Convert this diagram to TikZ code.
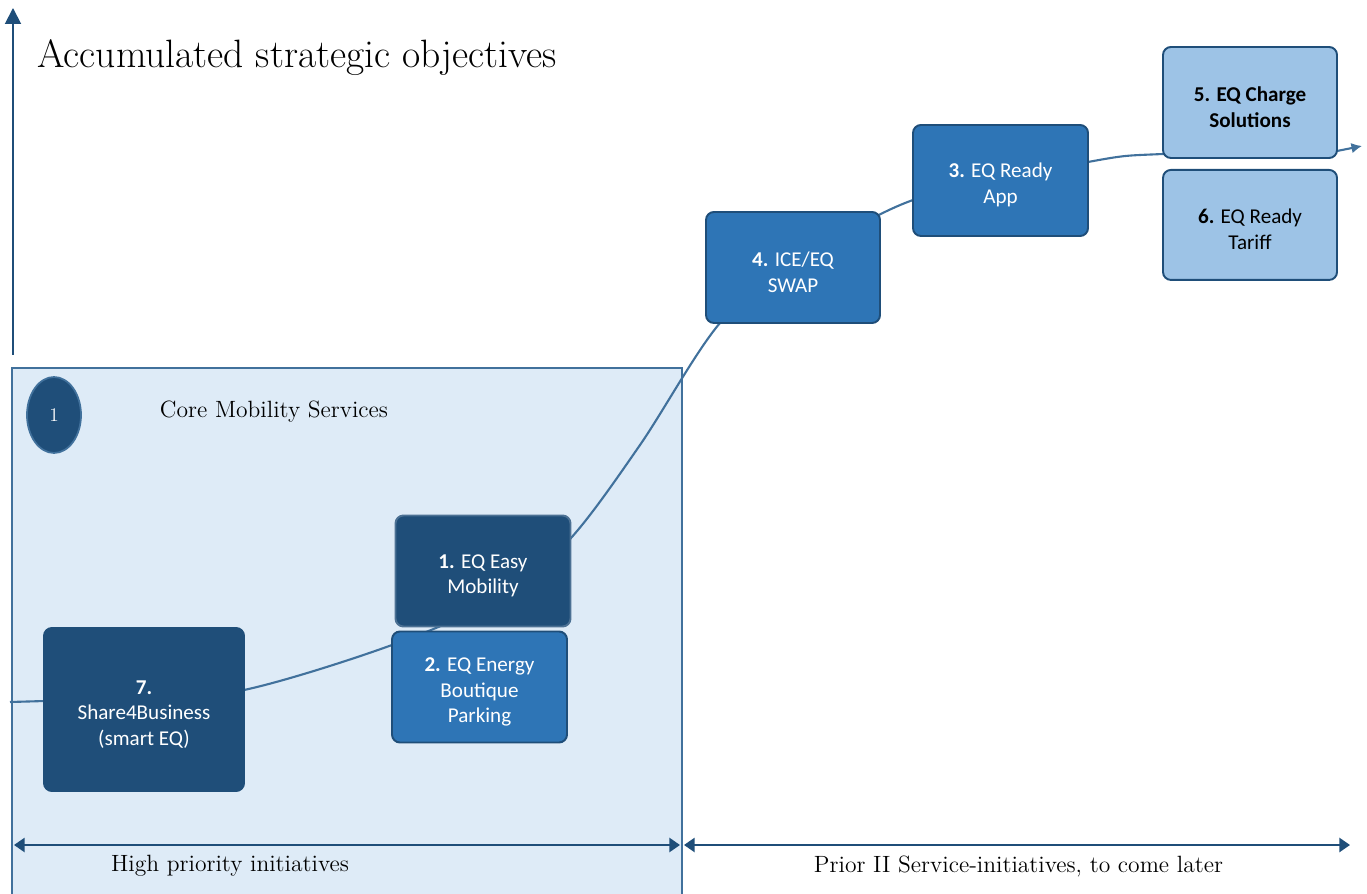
\documentclass[tikz,border=0pt]{standalone}
\usepackage{fontspec}
\newfontfamily\boxfont{Carlito}
\usepackage{tikz}
\usetikzlibrary{positioning,shapes.geometric,arrows.meta}
\definecolor{navy}{RGB}{31,78,121}
\definecolor{midblue}{RGB}{46,117,182}
\definecolor{paleblue}{RGB}{157,195,230}
\definecolor{panelfill}{RGB}{222,235,247}
\definecolor{panelline}{RGB}{65,113,156}
\tikzset{
    initiative/.style={rectangle, rounded corners=4.5pt, draw=navy, line width=1.1pt, minimum width=3.5cm, minimum height=2.22cm, align=center, inner sep=2pt, font=\boxfont\fontsize{12}{14.6}\selectfont},
    corebox/.style={initiative, fill=navy, text=white},
    midbox/.style={initiative, fill=midblue, text=white},
    laterbox/.style={initiative, fill=paleblue, text=black},
    axisline/.style={draw=navy, line width=1.1pt},
    trend/.style={draw=panelline, line width=1.2pt},
    caption/.style={font=\fontsize{13.4}{16}\selectfont}
}
% lowers the first line of a box a little
\newcommand{\lift}{\rule{0pt}{13.5pt}}

\begin{document}
\begin{tikzpicture}
    \useasboundingbox (0,0) rectangle (27.34,-17.88);

    % panel of the first group
    \draw[fill=panelfill, draw=panelline, line width=0.8pt] (0.24,-18.2) rectangle (13.64,-7.36);
    \node[ellipse, fill=navy, draw=panelline, line width=1pt, minimum width=1.08cm, minimum height=1.52cm, text=white, font=\fontsize{11}{12}\selectfont] (badge) at (1.08,-8.3) {1};
    \node[caption] (coretitle) at (5.48,-8.24) {Core Mobility Services};

    % vertical axis and title
    \coordinate (ybottom) at (0.26,-7.1);
    \coordinate (ytop) at (0.26,-0.16);
    \draw[axisline, -{Triangle[length=9pt,width=9pt]}] (ybottom) -- (ytop);
    \node[anchor=base west, inner sep=0pt, font=\fontsize{22.5}{27}\selectfont] (title) at (0.74,-1.36) {Accumulated strategic objectives};

    % trend line
    \coordinate (t0) at (0.2,-14.04);
    \coordinate (t1) at (2.88,-13.95);
    \coordinate (t2) at (4.88,-13.8);
    \coordinate (t3) at (7.84,-12.9);
    \coordinate (t4) at (10.1,-11.9);
    \coordinate (t5) at (11.42,-10.76);
    \coordinate (t6) at (12.8,-8.9);
    \coordinate (t7) at (14.4,-6.46);
    \coordinate (t8) at (15.86,-5.35);
    \coordinate (t9) at (18.26,-4.0);
    \coordinate (t10) at (21.76,-3.24);
    \coordinate (t11) at (23.26,-3.08);
    \coordinate (t12) at (26.74,-3.02);
    \coordinate (t13) at (27.24,-2.92);
    \draw[trend] plot[smooth, tension=0.55] coordinates {(t0) (t1) (t2) (t3) (t4) (t5) (t6) (t7) (t8) (t9) (t10) (t11) (t12)};
    \draw[trend, -{Latex[length=6pt,width=6pt]}] (t12) -- (t13);

    % initiatives
    \node[corebox, draw=navy!80!white] (easy) at (9.66,-11.42) {\lift\textbf{1.} EQ Easy\\Mobility};
    \node[midbox] (boutique) at (9.59,-13.74) {\lift\textbf{2.} EQ Energy\\Boutique\\Parking};
    \node[corebox, minimum width=4cm, minimum height=3.26cm] (share) at (2.88,-14.19) {\lift\textbf{7.}\\Share4Business\\(smart EQ)};
    \node[midbox, minimum width=3.48cm] (swap) at (15.86,-5.35) {\lift\textbf{4.} ICE/EQ\\SWAP};
    \node[midbox] (app) at (20.01,-3.61) {\lift\textbf{3.} EQ Ready\\App};
    \node[laterbox, minimum width=3.48cm, font=\boxfont\bfseries\fontsize{12}{14.6}\selectfont] (charge) at (25.0,-2.05) {\lift 5. EQ Charge\\Solutions};
    \node[laterbox, minimum width=3.48cm, minimum height=2.2cm, below=0.2cm of charge] (tariff) {\lift\textbf{6.} EQ Ready\\Tariff};

    % time axis
    \coordinate (hstart) at (0.28,-16.9);
    \coordinate (hmid) at (13.6,-16.9);
    \coordinate (hnext) at (13.68,-16.9);
    \coordinate (hend) at (27.0,-16.9);
    \draw[axisline, {Triangle[length=6pt,width=8pt]}-{Triangle[length=6pt,width=8pt]}] (hstart) -- (hmid);
    \draw[axisline, {Triangle[length=6pt,width=8pt]}-{Triangle[length=6pt,width=8pt]}] (hnext) -- (hend);
    \node[caption] (highlabel) at (4.6,-17.32) {High priority initiatives};
    \node[caption] (laterlabel) at (20.37,-17.32) {Prior II Service-initiatives, to come later};
\end{tikzpicture}
\end{document}
